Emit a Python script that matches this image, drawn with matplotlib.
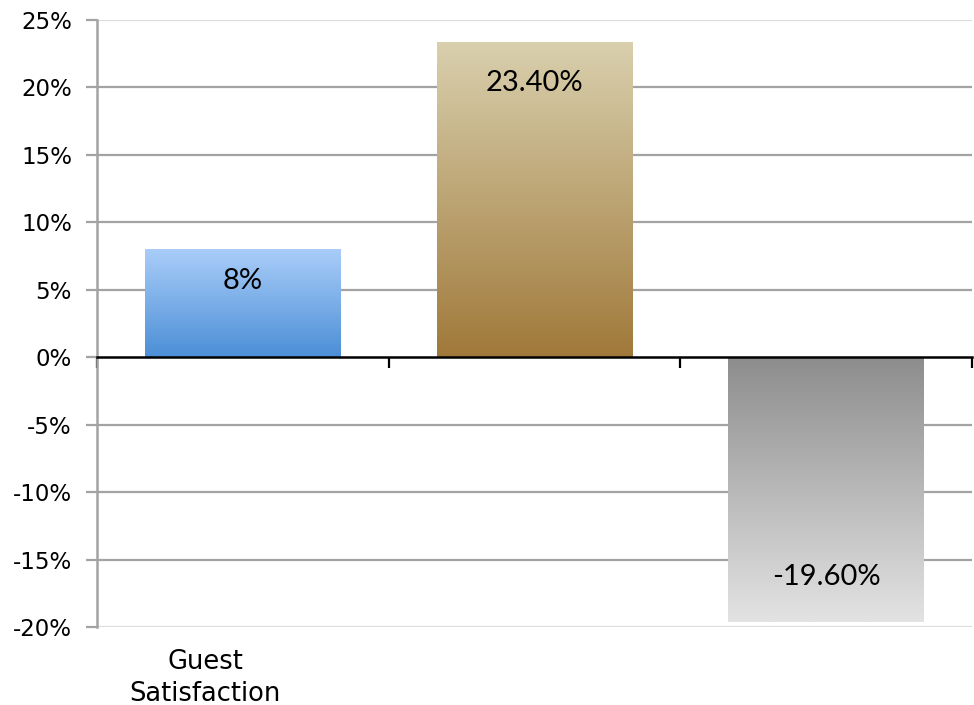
import matplotlib
matplotlib.use('Agg')
import matplotlib.pyplot as plt
import matplotlib.transforms as mtransforms
from matplotlib.colors import LinearSegmentedColormap
import numpy as np

#%% data
categories = ['Guest\nSatisfaction', '', '']
values = [8.0, 23.4, -19.6]
value_labels = ['8%', '23.40%', '-19.60%']
# gradient colours, (colour at value end, colour at zero end)
grad_colors = [('#aacdf9', '#4b8fd6'),
               ('#d9d0ae', '#a0793a'),
               ('#e3e3e3', '#8d8d8d')]
label_offsets = [-23, -30, 32]  # points from bar end

#%% plot
plt.rcParams['font.family'] = ['DejaVu Sans']
fig = plt.figure(figsize=(9.74, 7.05), dpi=100)
ax = fig.add_axes([97/974, 1-627/705, (972-97)/974, (627-20)/705])

x = np.arange(len(values))
bars = ax.bar(x, values, width=0.67, color='none', edgecolor='none', zorder=3)

grad = np.linspace(0, 1, 256).reshape(-1, 1)
for i, b in enumerate(bars):
    v = values[i]
    end_c, zero_c = grad_colors[i]
    cmap = LinearSegmentedColormap.from_list('g%d' % i, [zero_c, end_c])
    x0 = b.get_x()
    x1 = x0 + b.get_width()
    # extent goes from zero (row 0) to bar end (last row)
    im = ax.imshow(grad, cmap=cmap, aspect='auto', origin='lower',
                   extent=[x0, x1, 0, v], zorder=3, interpolation='bilinear')
    im.set_clip_path(b)
    ax.annotate(value_labels[i], (x[i], v), xytext=(0, label_offsets[i]),
                textcoords='offset points', ha='center', va='center',
                fontsize=21, family=['Lato', 'DejaVu Sans'], color='black', zorder=5)

ax.set_xlim(-0.5, 2.5)
ax.set_ylim(-20, 25)

# gridlines
yt = np.arange(-20, 26, 5)
for y in yt:
    if y == 0:
        continue
    c = '#dcdcdc' if y in (-20, 25) else '#a3a3a3'
    ax.axhline(y, color=c, lw=1.6, zorder=1)

ax.set_yticks(yt)
ax.set_yticklabels(['%d%%' % y for y in yt], fontsize=16.5)
ax.tick_params(axis='y', length=8, width=1.6, color='#a3a3a3', pad=10)

for s in ['top', 'right']:
    ax.spines[s].set_visible(False)
ax.spines['left'].set_color('#a3a3a3')
ax.spines['left'].set_linewidth(1.8)
ax.spines['bottom'].set_position(('data', 0))
ax.spines['bottom'].set_color('black')
ax.spines['bottom'].set_linewidth(1.8)
ax.spines['bottom'].set_zorder(4)
ax.set_xticks(np.arange(-0.5, len(values), 1.0))
ax.set_xticklabels([])
ax.tick_params(axis='x', length=8, width=1.6, color='black', direction='out')

trans = mtransforms.blended_transform_factory(ax.transData, ax.transAxes)
for i, c in enumerate(categories):
    ax.annotate(c, (x[i], -0.036), xycoords=trans, xytext=(-27, 0),
                textcoords='offset points', ha='center', va='top',
                fontsize=18.5, linespacing=1.3)

fig.savefig('out.png', dpi=100)
